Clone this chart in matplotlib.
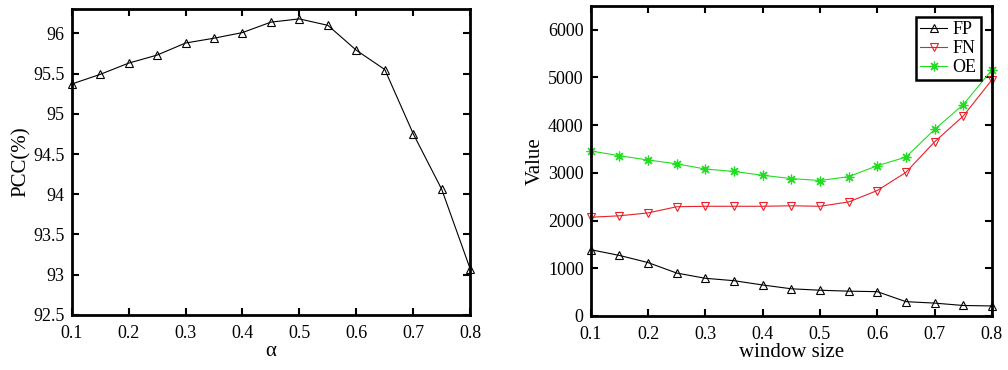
import matplotlib
matplotlib.use('Agg')
import matplotlib.pyplot as plt

plt.rcParams['font.family'] = ['Liberation Serif', 'DejaVu Serif']

alpha = [0.1, 0.15, 0.2, 0.25, 0.3, 0.35, 0.4, 0.45, 0.5, 0.55, 0.6, 0.65, 0.7, 0.75, 0.8]
pcc = [95.37, 95.49, 95.63, 95.73, 95.88, 95.94, 96.01, 96.14, 96.18, 96.10,
       95.79, 95.55, 94.75, 94.06, 93.07]

window = alpha
fp = [1390, 1270, 1120, 900, 790, 740, 650, 570, 540, 520, 510, 300, 270, 220, 210]
fn = [2070, 2100, 2160, 2290, 2300, 2300, 2300, 2310, 2300, 2390, 2630, 3010, 3650, 4190, 4950]
oe = [3460, 3360, 3270, 3190, 3080, 3030, 2950, 2880, 2840, 2920, 3150, 3330, 3910, 4430, 5160]

xticks = [0.1, 0.2, 0.3, 0.4, 0.5, 0.6, 0.7, 0.8]
xticklabels = ['0.1', '0.2', '0.3', '0.4', '0.5', '0.6', '0.7', '0.8']


def estilo(ax):
    ax.tick_params(direction='in', top=True, right=True, length=5, width=1.5,
                   labelsize=13)
    ax.tick_params(axis='x', pad=7)
    ax.tick_params(axis='y', pad=5)
    for s in ax.spines.values():
        s.set_linewidth(2)
    ax.set_xticks(xticks)
    ax.set_xticklabels(xticklabels)
    ax.set_xlim(0.1, 0.8)


fig = plt.figure(figsize=(10.08, 3.7), dpi=100)
ax1 = fig.add_axes([0.0711, 0.149, 0.3954, 0.826])
ax2 = fig.add_axes([0.586, 0.146, 0.398, 0.838])

ax1.plot(alpha, pcc, color='black', linewidth=0.8, marker='^', markersize=6,
         markerfacecolor='none', markeredgewidth=0.8, clip_on=False)
estilo(ax1)
ax1.set_ylim(92.5, 96.3)
ax1.set_yticks([92.5, 93, 93.5, 94, 94.5, 95, 95.5, 96])
ax1.set_yticklabels(['92.5', '93', '93.5', '94', '94.5', '95', '95.5', '96'])
ax1.set_xlabel('α', fontsize=15, labelpad=0)
ax1.set_ylabel('PCC(%)', fontsize=15, labelpad=2)

ax2.plot(window, fp, color='black', linewidth=0.8, marker='^', markersize=6,
         markerfacecolor='none', markeredgewidth=0.8, label='FP', clip_on=False)
ax2.plot(window, fn, color='#e8202a', linewidth=0.8, marker='v', markersize=6,
         markerfacecolor='none', markeredgewidth=0.8, label='FN', clip_on=False)
ax2.plot(window, oe, color='#22dd22', linewidth=0.8, marker=(8, 2, 0), markersize=7,
         markeredgewidth=0.9, label='OE', clip_on=False)
estilo(ax2)
ax2.set_ylim(0, 6500)
ax2.set_yticks([0, 1000, 2000, 3000, 4000, 5000, 6000])
ax2.set_xlabel('window size', fontsize=15, labelpad=0)
ax2.set_ylabel('Value', fontsize=15, labelpad=2)
leg = ax2.legend(loc='upper right', fontsize=13, fancybox=False, framealpha=1,
                 edgecolor='black', handlelength=1.5, handletextpad=0.3,
                 borderpad=0.25, labelspacing=0.1, borderaxespad=0.6)
leg.get_frame().set_linewidth(1.8)

fig.savefig('out.png', dpi=100)
